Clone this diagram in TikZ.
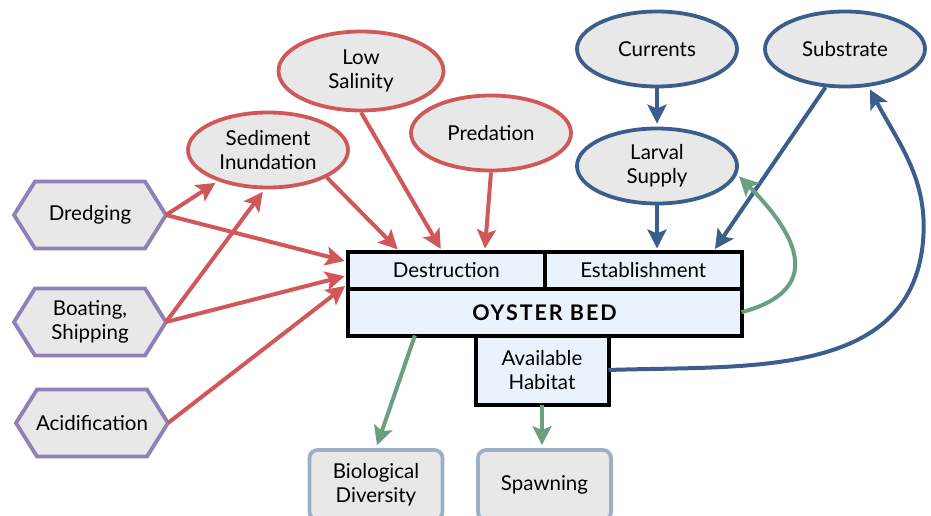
\documentclass[tikz,border=0pt]{standalone}
\usepackage{fontspec}
\setmainfont{Lato}
\usetikzlibrary{shapes.geometric,arrows.meta,calc}
\definecolor{redc}{HTML}{D0585A}
\definecolor{bluec}{HTML}{3B5E8C}
\definecolor{greenc}{HTML}{6A9F80}
\definecolor{purc}{HTML}{8F80B7}
\definecolor{grayf}{HTML}{E8E8E8}
\definecolor{bedf}{HTML}{EAF2FB}
\definecolor{botc}{HTML}{9CB0C5}
\pgfdeclarelayer{bg}
\pgfsetlayers{bg,main}
\begin{document}
\begin{tikzpicture}[x=1pt,y=-1pt,
  txt/.style={font=\fontsize{20.5}{24}\selectfont, align=center},
  ell/.style={txt, ellipse, fill=grayf, line width=3.8pt, inner sep=0pt, minimum width=160pt, minimum height=75pt},
  redell/.style={ell, draw=redc},
  blueell/.style={ell, draw=bluec},
  hexnode/.style={txt, minimum width=152pt, minimum height=67pt, inner sep=0pt, outer sep=0pt},
  hexs/.style={draw=purc, fill=grayf, line width=3.8pt, line join=miter},
  cell/.style={txt, draw=black, fill=bedf, line width=4pt, inner sep=0pt, outer sep=0pt},
  botbox/.style={txt, draw=botc, fill=grayf, line width=3.8pt, rounded corners=8pt, inner sep=0pt, minimum width=133pt, minimum height=70pt},
  arr/.style={line width=4pt, -{Stealth[length=19pt,width=19pt,inset=4pt]}, shorten >=3pt},
  ra/.style={arr, draw=redc},
  ba/.style={arr, draw=bluec},
  ga/.style={arr, draw=greenc}]
\useasboundingbox (0,0) rectangle (931,516);

% hexagon nodes
\node[hexnode] (dredge) at (90,215) {Dredging};
\node[hexnode] (boat) at (90,322) {Boating,\\Shipping};
\node[hexnode] (acid) at (92,423) {Acidification};
\begin{pgfonlayer}{bg}
\foreach \n in {dredge,boat,acid}{
  \draw[hexs] ($(\n.north west)+(21,0)$) -- ($(\n.north east)+(-21,0)$) -- (\n.east)
    -- ($(\n.south east)+(-21,0)$) -- ($(\n.south west)+(21,0)$) -- (\n.west) -- cycle;
}
\end{pgfonlayer}

% ellipses
\node[redell] (sed) at (268,150) {Sediment\\Inundation};
\node[redell, minimum width=165pt, minimum height=79pt] (sal) at (361,71) {Low\\Salinity};
\node[redell] (pred) at (491,133) {Predation};
\node[blueell] (cur) at (657,49) {Currents};
\node[blueell] (sub) at (845,49) {Substrate};
\node[blueell] (lar) at (657,166) {Larval\\Supply};

% oyster bed block
\node[cell, minimum width=197.5pt, minimum height=37.5pt] (destr) at (446.25,270.25) {Destruction};
\node[cell, minimum width=196.5pt, minimum height=37.5pt] (estab) at (643.25,270.25) {Establishment};
\node[cell, minimum width=394pt, minimum height=46.5pt, font=\fontsize{21.5}{24}\selectfont\bfseries\addfontfeature{LetterSpace=9}] (bed) at (544.5,312.25) {OYSTER BED};
\node[cell, minimum width=133pt, minimum height=69pt] (hab) at (542,370) {Available\\Habitat};

% bottom boxes
\node[botbox] (bio) at (376,485) {Biological\\Diversity};
\node[botbox] (spawn) at (544.5,485) {Spawning};

% red arrows
\draw[ra] (dredge.east) -- (sed.212);
\draw[ra] (boat.east) -- (sed.265);
\draw[ra] (dredge.east) -- (destr.175);
\draw[ra] (boat.east) -- (destr.183);
\draw[ra] (acid.east) -- (destr.188);
\draw[ra] (sed.-25) -- (destr.158);
\draw[ra] (sal.south) -- (destr.102);
\draw[ra] (pred.south) -- (destr.26);

% blue arrows
\draw[ba] (cur.south) -- (lar.north);
\draw[ba] (lar.south) -- (lar.south |- estab.north);
\draw[ba] (sub.243) -- (estab.15);
\coordinate (bend) at (922,250);
\draw[ba] (hab.east) to[out=2,in=-98] (bend) to[out=82,in=-62] (sub.-58);

% green arrows
\draw[ga] (bed.east) to[out=15,in=-45,looseness=1.6] (lar.-6);
\draw[ga] ($(bed.south west)!0.171!(bed.south east)$) -- (bio.north);
\draw[ga] (hab.south) -- (hab.south |- spawn.north);
\end{tikzpicture}
\end{document}
